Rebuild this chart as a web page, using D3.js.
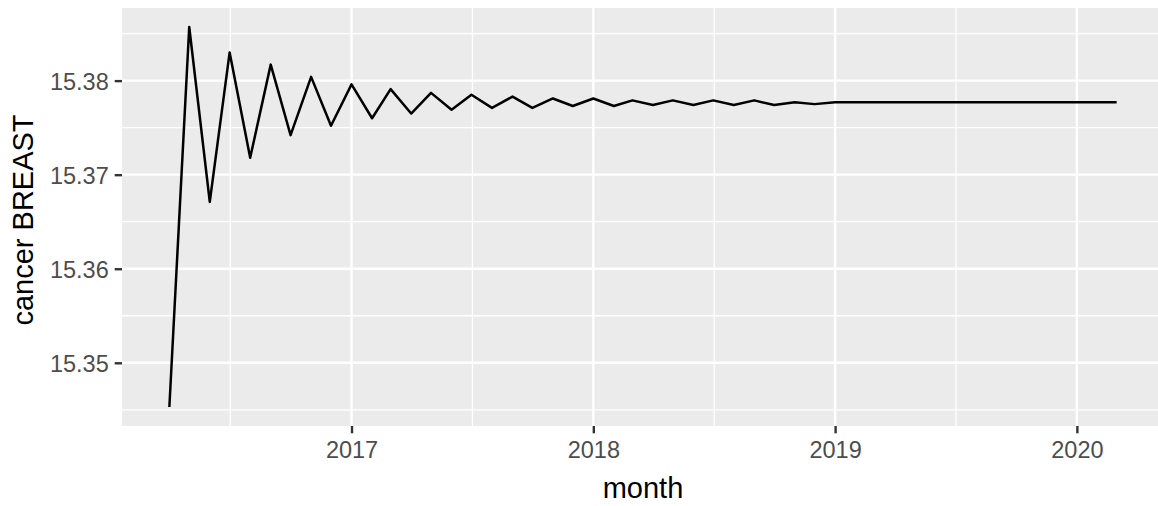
<!DOCTYPE html>
<html>
<head>
<meta charset="utf-8">
<script src="https://cdn.jsdelivr.net/npm/d3@7"></script>
<style>
  html, body { margin: 0; padding: 0; background: #ffffff; }
  svg { display: block; }
  text { font-family: "Liberation Sans", Arial, sans-serif; }
</style>
</head>
<body>
<svg id="chart" width="1158" height="506"></svg>
<script>
// Monthly series, April 2016 to March 2020
const months = [
  "2016-04","2016-05","2016-06","2016-07","2016-08","2016-09","2016-10","2016-11","2016-12",
  "2017-01","2017-02","2017-03","2017-04","2017-05","2017-06","2017-07","2017-08","2017-09","2017-10","2017-11","2017-12",
  "2018-01","2018-02","2018-03","2018-04","2018-05","2018-06","2018-07","2018-08","2018-09","2018-10","2018-11","2018-12",
  "2019-01","2019-02","2019-03","2019-04","2019-05","2019-06","2019-07","2019-08","2019-09","2019-10","2019-11","2019-12",
  "2020-01","2020-02","2020-03"
];
const cancerBreast = [
  15.3453, 15.3857, 15.3671, 15.3830, 15.3718, 15.3817, 15.3742, 15.3804, 15.3752,
  15.3796, 15.3760, 15.3791, 15.3765, 15.3787, 15.3769, 15.3785, 15.3771, 15.3783, 15.3771, 15.3781, 15.3773,
  15.3781, 15.3773, 15.3779, 15.3774, 15.3779, 15.3774, 15.3779, 15.3774, 15.3779, 15.3774, 15.3777, 15.3775,
  15.3777, 15.3777, 15.3777, 15.3777, 15.3777, 15.3777, 15.3777, 15.3777, 15.3777, 15.3777, 15.3777, 15.3777,
  15.3777, 15.3777, 15.3777
];
const xTickYears = [2017, 2018, 2019, 2020];
const xMinorYears = [2016.5, 2017.5, 2018.5, 2019.5];
const yTicks = [15.35, 15.36, 15.37, 15.38];
const yMinor = [15.345, 15.355, 15.365, 15.375, 15.385];

const parseMonth = d3.utcParse("%Y-%m");
const data = months.map((m, i) => ({ date: parseMonth(m), value: cancerBreast[i] }));

// panel geometry
const panel = { left: 122, right: 1164, top: 8, bottom: 426 };

// 5% expansion on each side, as in ggplot
const xExt = d3.extent(data, d => d.date.getTime());
const xPad = (xExt[1] - xExt[0]) * 0.05;
const x = d3.scaleUtc()
  .domain([new Date(xExt[0] - xPad), new Date(xExt[1] + xPad)])
  .range([panel.left, panel.right]);

const yExt = d3.extent(data, d => d.value);
const yPad = (yExt[1] - yExt[0]) * 0.05;
const y = d3.scaleLinear()
  .domain([yExt[0] - yPad, yExt[1] + yPad])
  .range([panel.bottom, panel.top]);

const yearDate = yr => {
  const whole = Math.floor(yr);
  const frac = yr - whole;
  const start = Date.UTC(whole, 0, 1), end = Date.UTC(whole + 1, 0, 1);
  return new Date(start + frac * (end - start));
};

const svg = d3.select("#chart");

svg.append("rect")
  .attr("x", panel.left).attr("y", panel.top)
  .attr("width", panel.right - panel.left).attr("height", panel.bottom - panel.top)
  .attr("fill", "#EBEBEB");

const grid = svg.append("g");
// minor grid
grid.selectAll("line.ymin").data(yMinor).join("line")
  .attr("x1", panel.left).attr("x2", panel.right)
  .attr("y1", d => y(d)).attr("y2", d => y(d))
  .attr("stroke", "#ffffff").attr("stroke-width", 1.3);
grid.selectAll("line.xmin").data(xMinorYears).join("line")
  .attr("y1", panel.top).attr("y2", panel.bottom)
  .attr("x1", d => x(yearDate(d))).attr("x2", d => x(yearDate(d)))
  .attr("stroke", "#ffffff").attr("stroke-width", 1.3);
// major grid
grid.selectAll("line.ymaj").data(yTicks).join("line")
  .attr("x1", panel.left).attr("x2", panel.right)
  .attr("y1", d => y(d)).attr("y2", d => y(d))
  .attr("stroke", "#ffffff").attr("stroke-width", 2.4);
grid.selectAll("line.xmaj").data(xTickYears).join("line")
  .attr("y1", panel.top).attr("y2", panel.bottom)
  .attr("x1", d => x(yearDate(d))).attr("x2", d => x(yearDate(d)))
  .attr("stroke", "#ffffff").attr("stroke-width", 2.4);

// series line
const line = d3.line().x(d => x(d.date)).y(d => y(d.value));
svg.append("path")
  .datum(data)
  .attr("d", line)
  .attr("fill", "none")
  .attr("stroke", "#000000")
  .attr("stroke-width", 2.5)
  .attr("stroke-linejoin", "round");

// axes
const xAxis = d3.axisBottom(x)
  .tickValues(xTickYears.map(yearDate))
  .tickFormat(d3.utcFormat("%Y"))
  .tickSize(7.3).tickPadding(8);
const gx = svg.append("g").attr("transform", `translate(0,${panel.bottom})`).call(xAxis);
gx.select(".domain").remove();
gx.selectAll(".tick line").attr("stroke", "#333333").attr("stroke-width", 2.4);
gx.selectAll(".tick text")
  .attr("fill", "#4D4D4D")
  .style("font-size", "23.5px")
  .style("font-family", "'Liberation Sans', Arial, sans-serif");

const yAxis = d3.axisLeft(y)
  .tickValues(yTicks)
  .tickFormat(d3.format(".2f"))
  .tickSize(7.3).tickPadding(6);
const gy = svg.append("g").attr("transform", `translate(${panel.left},0)`).call(yAxis);
gy.select(".domain").remove();
gy.selectAll(".tick line").attr("stroke", "#333333").attr("stroke-width", 2.4);
gy.selectAll(".tick text")
  .attr("fill", "#4D4D4D")
  .attr("dy", "0.38em")
  .style("font-size", "23.5px")
  .style("font-family", "'Liberation Sans', Arial, sans-serif");

// axis titles
svg.append("text")
  .attr("x", (panel.left + panel.right) / 2)
  .attr("y", 498)
  .attr("text-anchor", "middle")
  .attr("fill", "#000000")
  .style("font-size", "29px")
  .text("month");

svg.append("text")
  .attr("transform", `translate(33,${(panel.top + panel.bottom) / 2 + 3}) rotate(-90)`)
  .attr("text-anchor", "middle")
  .attr("fill", "#000000")
  .style("font-size", "29px")
  .text("cancer BREAST");
</script>
</body>
</html>
